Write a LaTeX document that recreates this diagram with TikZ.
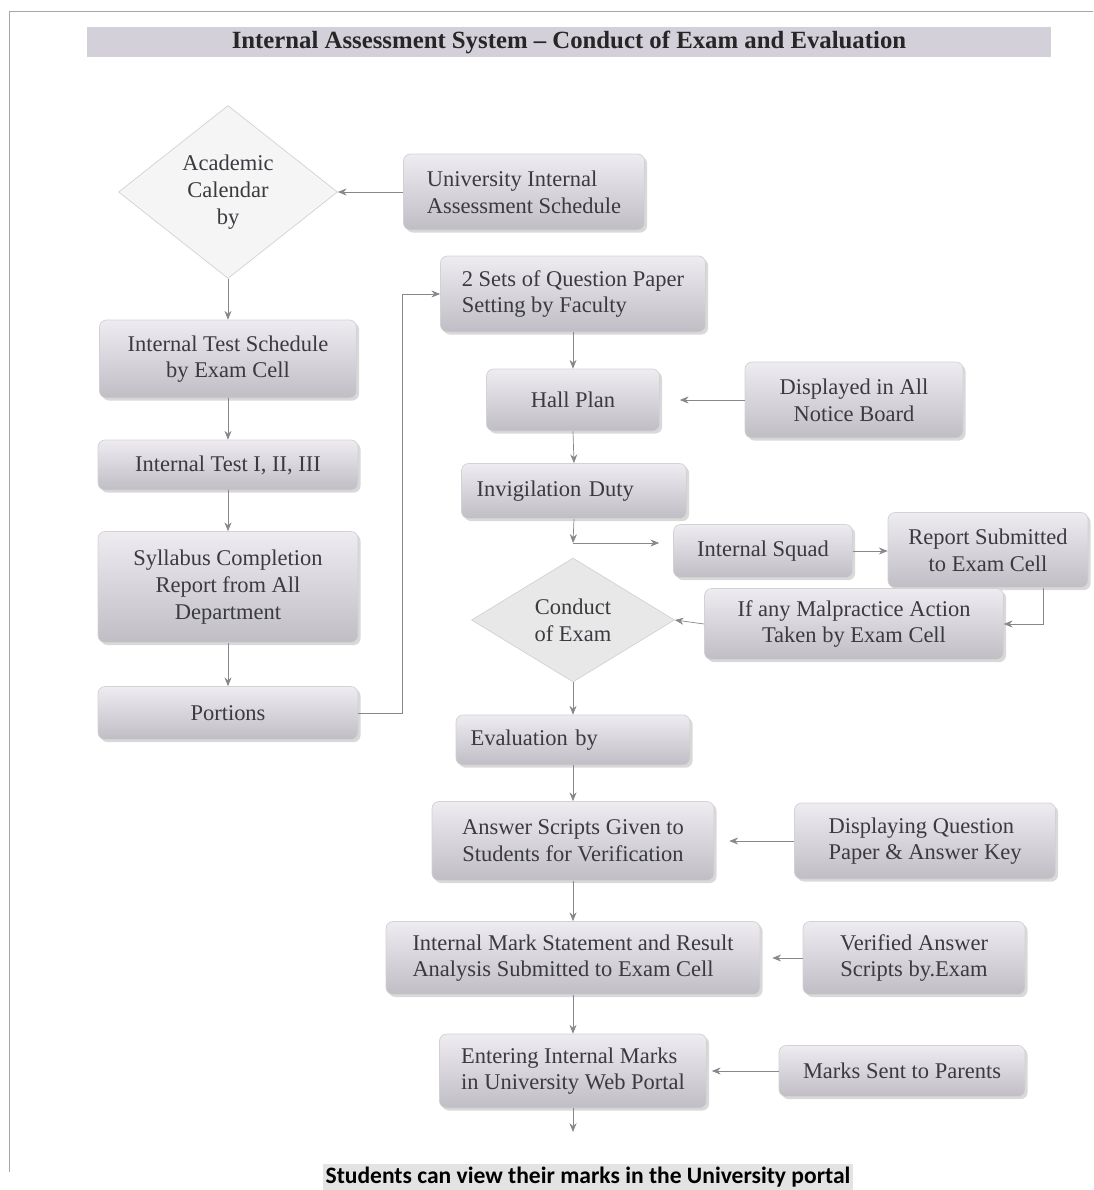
\documentclass[tikz,border=0pt]{standalone}
\usepackage{fontspec}
\setmainfont{Liberation Serif}
\newfontfamily\notefont{Carlito}
\usetikzlibrary{positioning}
\usetikzlibrary{calc}
\usetikzlibrary{arrows.meta}
\usetikzlibrary{shapes.geometric}
\usetikzlibrary{shadows}
\definecolor{boxtext}{RGB}{58,58,64}
\definecolor{linegray}{RGB}{135,135,140}
\definecolor{titlebar}{RGB}{212,208,218}
\definecolor{boxlight}{RGB}{238,236,241}
\definecolor{boxdark}{RGB}{192,189,197}
\tikzset{
  box/.style={rectangle, rounded corners=4pt, draw=gray!35, top color=boxlight, bottom color=boxdark,
    drop shadow={shadow xshift=1.5pt, shadow yshift=-1.5pt, opacity=0.3},
    text=boxtext, align=center, inner sep=2pt, font=\fontsize{12.8}{15.2}\selectfont},
  lbox/.style={box, align=left},
  dia/.style={diamond, draw=gray!35, fill=gray!8, text=boxtext, align=center, inner sep=0pt,
    font=\fontsize{12.8}{15.2}\selectfont},
  arr/.style={draw=linegray, thin, -{Stealth[length=5pt,width=4pt]}},
}

\begin{document}
\begin{tikzpicture}[x=0.02cm,y=-0.02cm]
	\useasboundingbox (0,0) rectangle (1093,1190);
	\draw [gray!70] (1093,11) -- (9,11) -- (9,1172);
	\node (title) at (569,42) [fill=titlebar, minimum width=19.3cm, minimum height=0.6cm, inner sep=0pt,
		font=\fontsize{14.1}{15}\selectfont\bfseries, text=black!85] {Internal Assessment System – Conduct of Exam and Evaluation};

	% left column
	\node (acad) at (228,192) [dia, aspect=1.27, minimum width=4.38cm, minimum height=3.46cm] {Academic\\Calendar\\by};
	\node (uias) at (524,192) [lbox, minimum width=4.82cm, minimum height=1.52cm] {University Internal\\Assessment Schedule};
	\node (its) at (228,359) [box, minimum width=5.14cm, minimum height=1.56cm] {Internal Test Schedule\\by Exam Cell};
	\node (test) at (228,465) [box, minimum width=5.2cm, minimum height=1.0cm] {Internal Test I, II, III};
	\node (syl) at (228,587) [box, minimum width=5.2cm, minimum height=2.22cm] {Syllabus Completion\\Report from All\\Department};
	\node (por) at (228,713) [box, minimum width=5.2cm, minimum height=1.06cm] {Portions};

	% middle column
	\node (qp) at (573,294) [lbox, minimum width=5.3cm, minimum height=1.52cm] {2 Sets of Question Paper\\Setting by Faculty};
	\node (hall) at (573,400) [box, minimum width=3.46cm, minimum height=1.24cm] {Hall Plan};
	\node (disp) at (854,400) [box, minimum width=4.36cm, minimum height=1.52cm] {Displayed in All\\Notice Board};
	\node (inv) at (574,491) [box, text width=3.9cm, inner xsep=0.3cm, align=left, minimum height=1.1cm] {Invigilation Duty};
	\coordinate (jn) at (573,543);
	\node (squad) at (763,551) [box, minimum width=3.58cm, minimum height=1.06cm] {Internal Squad};
	\node (rep) at (988,550) [box, minimum width=4.0cm, minimum height=1.5cm] {Report Submitted\\to Exam Cell};
	\node (mal) at (854,624) [box, minimum width=5.98cm, minimum height=1.42cm] {If any Malpractice Action\\Taken by Exam Cell};
	\node (cond) at (573,620) [dia, fill=gray!18, aspect=1.6, minimum width=4.06cm, minimum height=2.48cm] {Conduct\\of Exam};
	\node (eval) at (573,740) [box, text width=4.1cm, inner xsep=0.29cm, align=left, minimum height=1.0cm] {Evaluation by};
	\node (ans) at (573,841) [box, minimum width=5.64cm, minimum height=1.58cm] {Answer Scripts Given to\\Students for Verification};
	\node (dqp) at (925,841) [lbox, minimum width=5.22cm, minimum height=1.52cm] {Displaying Question\\Paper \& Answer Key};
	\node (ims) at (573,958) [lbox, minimum width=7.48cm, minimum height=1.46cm] {Internal Mark Statement and Result\\Analysis Submitted to Exam Cell};
	\node (ver) at (914,958) [box, minimum width=4.44cm, minimum height=1.46cm] {Verified Answer\\Scripts by.Exam};
	\node (ent) at (573,1071) [lbox, minimum width=5.34cm, minimum height=1.48cm] {Entering Internal Marks\\in University Web Portal};
	\node (par) at (902,1071) [box, minimum width=4.92cm, minimum height=1.02cm] {Marks Sent to Parents};
	\coordinate (fin) at (573,1132);
	\node (note) at (588,1177) [fill=gray!22, inner sep=1.5pt, font=\notefont\bfseries\fontsize{13.4}{15}\selectfont] {Students can view their marks in the University portal};

	% connectors
	\draw [arr] (uias.west) -- (acad.east);
	\draw [arr] (acad.south) -- (its.north);
	\draw [arr] (its.south) -- (test.north);
	\draw [arr] (test.south) -- (syl.north);
	\draw [arr] (syl.south) -- (por.north);
	\draw [arr] (por.east) -- ++(44,0) |- (qp.west);
	\draw [arr] (qp.south) -- (hall.north);
	\draw [arr, shorten >=0.4cm] (disp.west) -- (hall.east);
	\draw [arr] (hall.south) -- (inv.north);
	\draw [arr] (inv.south) -- (jn);
	\draw [arr, shorten >=0.28cm] (jn) -- (jn -| squad.west);
	\draw [arr] (squad.east) -- (squad.east -| rep.west);
	\draw [arr] ($(rep.south)+(55,0)$) |- (mal.east);
	\draw [arr] (mal.west) -- (cond.east);
	\draw [arr] (cond.south) -- (eval.north);
	\draw [arr] (eval.south) -- (ans.north);
	\draw [arr, shorten >=0.3cm] (dqp.west) -- (ans.east);
	\draw [arr] (ans.south) -- (ims.north);
	\draw [arr, shorten >=0.24cm] (ver.west) -- (ims.east);
	\draw [arr] (ims.south) -- (ent.north);
	\draw [arr, shorten >=0.1cm] (par.west) -- (ent.east);
	\draw [arr] (ent.south) -- (fin);
\end{tikzpicture}
\end{document}
